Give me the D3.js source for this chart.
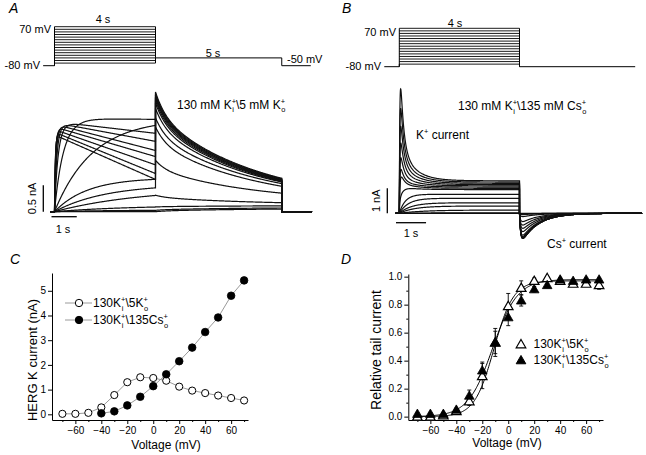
<!DOCTYPE html>
<html><head><meta charset="utf-8">
<script src="https://cdn.jsdelivr.net/npm/d3@7"></script>
<style>
body{margin:0;background:#fff}
text{font-family:"Liberation Sans",Arial,Helvetica,sans-serif;fill:#000}
</style>
</head><body>
<svg id="fig" width="646" height="455"></svg>
<script>
// ---------------- DATA ----------------
const stepV = [-70,-60,-50,-40,-30,-20,-10,0,10,20,30,40,50,60,70];

// Panel A (130 K / 5 K): step currents and tails (nA, s)
const aAmp      = [0, 0.03, 0.12, 0.45, 0.52, 0.64, 1.75, 1.76, 1.70, 1.68, 1.65, 1.60, 1.55, 1.50, 1.45];
const aTau      = [1, 2, 3, 3.5, 2.0, 1.3, 1.5, 0.35, 0.15, 0.10, 0.07, 0.05, 0.04, 0.035, 0.03];
const aDecline  = [0, 0, 0, 0, 0, 0, 0, 0.01, 0.13, 0.21, 0.30, 0.35, 0.43, 0.52, 0.58];
const aTailPeak = [0, 0.026, 0.09, 0.31, 0.97, 1.60, 1.77, 1.95, 2.05, 2.10, 2.14, 2.17, 2.20, 2.23, 2.26];
const aTailEnd  = [0.05, 0.07, 0.11, 0.17, 0.35, 0.48, 0.53, 0.56, 0.57, 0.58, 0.59, 0.60, 0.61, 0.62, 0.63];

// Panel B (130 K / 135 Cs)
const bPlateau = [0, 0.02, 0.13, 0.29, 0.42, 0.60, 0.76, 0.95, 1.00, 1.05, 1.10, 1.15, 1.20, 1.25, 1.30];
const bPeak    = [0, 0.02, 0.13, 0.29, 0.42, 0.60, 0.76, 1.25, 1.61, 1.85, 2.33, 2.93, 3.61, 4.33, 5.13];
const bTau     = [1, 1, 0.8, 0.5, 0.4, 0.3, 0.2, 0.1, 0.03, 0.02, 0.02, 0.02, 0.02, 0.02, 0.02];
const bTail    = [0, 0.02, 0.05, 0.13, 0.33, 0.47, 0.60, 0.73, 0.87, 0.93, 0.97, 1.0, 1.0, 1.0, 1.0];

// Panel C: I-V
const ivV   = [-70,-60,-50,-40,-30,-20,-10,0,10,20,30,40,50,60,70];
const ivK5  = [0.02,0.02,0.06,0.28,0.78,1.30,1.50,1.47,1.36,1.12,0.96,0.86,0.76,0.66,0.56];
const ivCsV = [-40,-30,-20,-10,0,10,20,30,40,50,60,70];
const ivCs  = [0.04,0.12,0.36,0.71,1.14,1.62,2.15,2.70,3.33,3.92,4.80,5.42];
const ivYTicks = [0,1,2,3,4,5];

// Panel D: activation
const actK5  = [0.00,0.00,0.01,0.04,0.11,0.29,0.53,0.79,0.92,0.97,0.99,0.97,0.95,0.95,0.94];
const errK5  = [0.01,0.01,0.01,0.01,0.03,0.09,0.10,0.09,0.05,0.02,0.01,0.01,0.02,0.02,0.03];
const actCs  = [0.02,0.02,0.02,0.05,0.15,0.33,0.53,0.71,0.83,0.91,0.94,0.98,0.97,0.98,0.98];
const errCs  = [0.01,0.01,0.01,0.01,0.04,0.06,0.08,0.06,0.04,0.02,0.01,0.01,0.01,0.01,0.01];
const fitK5  = {vHalf:-11, k:7.5, max:0.97};
const fitCs  = {vHalf:-12, k:9.5, max:0.98};
const actYTicks = [0,0.2,0.4,0.6,0.8,1.0];
const actYMinor = [0.1,0.3,0.5,0.7,0.9];

const vTicks = [-60,-40,-20,0,20,40,60];
const vMinor = [-70,-50,-30,-10,10,30,50,70];

// ---------------- DRAW ----------------
const svg = d3.select("#fig");
svg.append("rect").attr("width",646).attr("height",455).attr("fill","#fff");

function rich(parent, x, y, size, segs) {
  const g = parent.append("g");
  let cx = x;
  segs.forEach(s => {
    if (s.t !== undefined) {
      const el = g.append("text").attr("x", cx).attr("y", y).attr("font-size", size).text(s.t);
      cx += el.node().getComputedTextLength();
    } else {
      const small = size * 0.62;
      let w = 0;
      if (s.sup) { const e = g.append("text").attr("x", cx).attr("y", y - size*0.38).attr("font-size", small).text(s.sup); w = Math.max(w, e.node().getComputedTextLength()); }
      if (s.sub) { const e = g.append("text").attr("x", cx + 0.6).attr("y", y + size*0.3).attr("font-size", small).text(s.sub); w = Math.max(w, e.node().getComputedTextLength()); }
      cx += w;
    }
  });
  return g;
}
function label(x, y, txt, size, anchor, italic) {
  return svg.append("text").attr("x", x).attr("y", y).attr("font-size", size)
    .attr("text-anchor", anchor || "start").attr("font-style", italic ? "italic" : null).text(txt);
}

// panel letters
label(9, 12.5, "A", 14, "start", true);
label(342, 12.5, "B", 14, "start", true);
label(10, 264, "C", 14, "start", true);
label(341, 264, "D", 14, "start", true);

// ---------- Voltage protocols ----------
function protocol(tX, vY, tStart, tEnd, tailV, tailEnd) {
  const g = svg.append("g").attr("stroke", "#000").attr("stroke-width", 1).attr("fill", "none");
  const ln = d3.line().x(d => tX(d[0])).y(d => vY(d[1]));
  stepV.forEach(v => g.append("path").attr("d", ln([[0, v], [4, v]])).attr("stroke-width", 0.9));
  g.append("path").attr("d", ln([[0, -80], [0, 70]]));
  g.append("path").attr("d", ln([[4, tailV], [4, 70]]));
  g.append("path").attr("d", ln([[tStart, -80], [0, -80], [0, -70]]));
  g.append("path").attr("d", ln([[4, -70], [4, tailV], [tailEnd, tailV], [tailEnd, -80], [tEnd, -80]]));
}
const aX = d3.scaleLinear().domain([0, 4]).range([54.5, 155.5]);
const aY = d3.scaleLinear().domain([0, 0.5]).range([211.7, 185.2]);
const aV = d3.scaleLinear().domain([-80, 70]).range([65.7, 26.7]);
protocol(aX, aV, -0.45, 10.15, -50, 9);
label(51, 33, "70 mV", 11, "end");
label(40, 68.5, "-80 mV", 11, "end");
label(103, 23, "4 s", 11, "middle");
label(213, 57, "5 s", 11, "middle");
label(287, 63, "-50 mV", 11, "start");

const bX = d3.scaleLinear().domain([0, 4]).range([399.3, 519.5]);
const bY = d3.scaleLinear().domain([0, 1]).range([213.3, 188.3]);
const bV = d3.scaleLinear().domain([-80, 70]).range([66.7, 28.3]);
protocol(bX, bV, -0.5, 7.85, -80, 4);
label(396, 35.5, "70 mV", 11, "end");
label(381, 70, "-80 mV", 11, "end");
label(455, 26.5, "4 s", 11, "middle");

// ---------- Panel A traces ----------
function tailShape(u) { return 0.2*Math.exp(-u/0.4) + 0.8*Math.exp(-u/4); }
const tS5 = tailShape(5);
function aCurrent(i, t) {
  if (t < 0) return 0;
  if (t <= 4) return aAmp[i]*(1 - Math.exp(-t/aTau[i]))*(1 - aDecline[i]*t/4);
  const u = t - 4;
  const n = (tailShape(u) - tS5) / (1 - tS5);
  return aTailEnd[i] + (aTailPeak[i] - aTailEnd[i]) * n;
}
const stepTimes = d3.range(0, 0.3, 0.004).concat(d3.range(0.3, 4.0001, 0.02));
const tailTimes = d3.range(4.0001, 9.0001, 0.02);
const aLine = d3.line().x(d => aX(d[0])).y(d => aY(d[1]));
const aG = svg.append("g").attr("fill", "none").attr("stroke", "#111").attr("stroke-width", 1.2);
stepV.forEach((v, i) => {
  const pts = [[-0.17, 0], [0, 0]];
  stepTimes.forEach(t => pts.push([t, aCurrent(i, t)]));
  pts.push([4, aCurrent(i, 4)]);
  tailTimes.forEach(t => pts.push([t, aCurrent(i, t)]));
  pts.push([9, aCurrent(i, 9)], [9, 0], [10.2, 0]);
  aG.append("path").attr("d", aLine(pts));
});
// scale bars A
svg.append("path").attr("d", `M${43.3},${aY(0)}V${aY(0.5)}`).attr("stroke", "#000").attr("stroke-width", 1.3);
svg.append("path").attr("d", `M${51.5},216.7H${51.5 + (aX(1) - aX(0))}`).attr("stroke", "#000").attr("stroke-width", 1.3);
svg.append("text").attr("transform", `translate(35.5,${(aY(0)+aY(0.5))/2}) rotate(-90)`)
  .attr("font-size", 11).attr("text-anchor", "middle").text("0.5 nA");
label(63, 233, "1 s", 11, "middle");
rich(svg, 177, 108.5, 12, [{t: "130 mM K"}, {sup: "+", sub: "i"}, {t: "\\5 mM K"}, {sup: "+", sub: "o"}]);

// ---------- Panel B traces ----------
function trans(t) { return (1 - Math.exp(-t/0.02)) * (0.75*Math.exp(-t/0.1) + 0.25*Math.exp(-t/0.45)); }
const transMax = d3.max(d3.range(0, 0.3, 0.001), trans);
function tailIn(u) { return Math.exp(-u/0.55) - Math.exp(-u/0.04); }
const tailMax = d3.max(d3.range(0, 1, 0.002), tailIn);
function bCurrent(i, t) {
  if (t < 0) return 0;
  if (t <= 4) return bPlateau[i]*(1 - Math.exp(-t/bTau[i])) + (bPeak[i] - bPlateau[i]) * trans(t) / transMax;
  return -bTail[i] * tailIn(t - 4) / tailMax;
}
const bStepTimes = d3.range(0, 0.4, 0.003).concat(d3.range(0.4, 4.0001, 0.02));
const bTailTimes = d3.range(4.0001, 4.4, 0.004).concat(d3.range(4.4, 8.08, 0.02));
const bLine = d3.line().x(d => bX(d[0])).y(d => bY(d[1]));
const bG = svg.append("g").attr("fill", "none").attr("stroke", "#111").attr("stroke-width", 1.2);
stepV.forEach((v, i) => {
  const pts = [[-0.13, 0], [0, 0]];
  bStepTimes.forEach(t => pts.push([t, bCurrent(i, t)]));
  pts.push([4, bCurrent(i, 4)]);
  bTailTimes.forEach(t => pts.push([t, bCurrent(i, t)]));
  pts.push([8.08, 0]);
  bG.append("path").attr("d", bLine(pts));
});
svg.append("path").attr("d", `M387.3,${bY(0)}V${bY(1)}`).attr("stroke", "#000").attr("stroke-width", 1.3);
svg.append("path").attr("d", `M396,222.7H${396 + (bX(1) - bX(0))}`).attr("stroke", "#000").attr("stroke-width", 1.3);
svg.append("text").attr("transform", `translate(380,${(bY(0)+bY(1))/2}) rotate(-90)`)
  .attr("font-size", 11).attr("text-anchor", "middle").text("1 nA");
label(411, 236.5, "1 s", 11, "middle");
rich(svg, 458, 110, 12, [{t: "130 mM K"}, {sup: "+", sub: "i"}, {t: "\\135 mM Cs"}, {sup: "+", sub: "o"}]);
rich(svg, 416, 138.5, 12, [{t: "K"}, {sup: "+"}, {t: "\u00a0current"}]);
rich(svg, 547, 248, 12, [{t: "Cs"}, {sup: "+"}, {t: "\u00a0current"}]);

// ---------- Axes helper ----------
function drawAxes(x, y, yMajor, yMinor, yFmt) {
  const fnt = '"Liberation Sans", Arial, sans-serif';
  const gx = svg.append("g").attr("transform", `translate(0,${y.range()[0]})`)
    .call(d3.axisBottom(x).tickValues(vTicks).tickSize(4).tickSizeOuter(0).tickPadding(3).tickFormat(d3.format("d")));
  svg.append("g").attr("transform", `translate(0,${y.range()[0]})`)
    .call(d3.axisBottom(x).tickValues(vMinor).tickSize(2).tickSizeOuter(0).tickFormat(""))
    .select(".domain").remove();
  const gy = svg.append("g").attr("transform", `translate(${x.range()[0]},0)`)
    .call(d3.axisLeft(y).tickValues(yMajor).tickSize(4).tickSizeOuter(0).tickPadding(2).tickFormat(yFmt));
  if (yMinor) svg.append("g").attr("transform", `translate(${x.range()[0]},0)`)
    .call(d3.axisLeft(y).tickValues(yMinor).tickSize(2).tickSizeOuter(0).tickFormat(""))
    .select(".domain").remove();
  [gx, gy].forEach(g => g.attr("font-family", fnt).attr("font-size", 10));
  svg.selectAll(".tick line, .domain").attr("stroke", "#000");
}

// ---------- Panel C ----------
const cX = d3.scaleLinear().domain([-78, 73]).range([52, 248]);
const cY = d3.scaleLinear().domain([-0.23, 5.72]).range([420, 273]);
drawAxes(cX, cY, ivYTicks, null, d3.format("d"));
const cLine = d3.line().x(d => cX(d[0])).y(d => cY(d[1]));
const k5Pts = ivV.map((v, i) => [v, ivK5[i]]);
const csPts = ivCsV.map((v, i) => [v, ivCs[i]]);
svg.append("path").attr("d", cLine(k5Pts)).attr("fill", "none").attr("stroke", "#9a9a9a").attr("stroke-width", 1);
svg.append("path").attr("d", cLine(csPts)).attr("fill", "none").attr("stroke", "#9a9a9a").attr("stroke-width", 1);
svg.append("g").selectAll("circle").data(k5Pts).join("circle")
  .attr("cx", d => cX(d[0])).attr("cy", d => cY(d[1])).attr("r", 3.6)
  .attr("fill", "#fff").attr("stroke", "#000").attr("stroke-width", 1);
svg.append("g").selectAll("circle").data(csPts).join("circle")
  .attr("cx", d => cX(d[0])).attr("cy", d => cY(d[1])).attr("r", 3.8)
  .attr("fill", "#000").attr("stroke", "#000").attr("stroke-width", 0.8);
// legend C
[[303, "#fff"], [320, "#000"]].forEach(([yy, f]) => {
  svg.append("path").attr("d", `M65,${yy}H92`).attr("stroke", "#9a9a9a");
  svg.append("circle").attr("cx", 79).attr("cy", yy).attr("r", 3.7).attr("fill", f).attr("stroke", "#000");
});
rich(svg, 93, 307, 12, [{t: "130K"}, {sup: "+", sub: "i"}, {t: "\\5K"}, {sup: "+", sub: "o"}]);
rich(svg, 93, 324, 12, [{t: "130K"}, {sup: "+", sub: "i"}, {t: "\\135Cs"}, {sup: "+", sub: "o"}]);
svg.append("text").attr("transform", `translate(37,360) rotate(-90)`)
  .attr("font-size", 13).attr("text-anchor", "middle").text("HERG K current (nA)");
label(166, 449, "Voltage (mV)", 12, "middle");

// ---------- Panel D ----------
const dX = d3.scaleLinear().domain([-77, 73]).range([408.3, 603]);
const dY = d3.scaleLinear().domain([-0.024, 1.019]).range([420, 274]);
drawAxes(dX, dY, actYTicks, actYMinor, d3.format(".1f"));
const boltz = (p, v) => p.max / (1 + Math.exp((p.vHalf - v) / p.k));
const fitV = d3.range(-70, 70.01, 0.5);
const dLine = d3.line().x(d => dX(d[0])).y(d => dY(d[1]));
[fitK5, fitCs].forEach(p => svg.append("path").attr("d", dLine(fitV.map(v => [v, boltz(p, v)])))
  .attr("fill", "none").attr("stroke", "#000").attr("stroke-width", 1));
function errBars(vals, errs) {
  const g = svg.append("g").attr("stroke", "#000").attr("stroke-width", 0.9);
  ivV.forEach((v, i) => {
    const x = dX(v), y1 = dY(vals[i] - errs[i]), y2 = dY(vals[i] + errs[i]);
    g.append("path").attr("d", `M${x},${y1}V${y2}M${x-2},${y1}H${x+2}M${x-2},${y2}H${x+2}`);
  });
}
errBars(actK5, errK5);
errBars(actCs, errCs);
const tri = d3.symbol().type(d3.symbolTriangle).size(40);
svg.append("g").selectAll("path").data(ivV).join("path")
  .attr("d", tri).attr("transform", (v, i) => `translate(${dX(v)},${dY(actK5[i]) + 0.8})`)
  .attr("fill", "#fff").attr("stroke", "#000").attr("stroke-width", 1.2);
svg.append("g").selectAll("path").data(ivV).join("path")
  .attr("d", tri).attr("transform", (v, i) => `translate(${dX(v)},${dY(actCs[i]) + 0.8})`)
  .attr("fill", "#000").attr("stroke", "#000").attr("stroke-width", 0.8);
// legend D
svg.append("path").attr("d", tri).attr("transform", "translate(521,345)").attr("fill", "#fff").attr("stroke", "#000").attr("stroke-width", 1.2);
svg.append("path").attr("d", tri).attr("transform", "translate(521,361)").attr("fill", "#000").attr("stroke", "#000");
rich(svg, 533.5, 348, 12, [{t: "130K"}, {sup: "+", sub: "i"}, {t: "\\5K"}, {sup: "+", sub: "o"}]);
rich(svg, 533.5, 364, 12, [{t: "130K"}, {sup: "+", sub: "i"}, {t: "\\135Cs"}, {sup: "+", sub: "o"}]);
svg.append("text").attr("transform", `translate(381,350) rotate(-90)`)
  .attr("font-size", 14).attr("text-anchor", "middle").text("Relative tail current");
label(507, 447, "Voltage (mV)", 12, "middle");
</script>
</body></html>
